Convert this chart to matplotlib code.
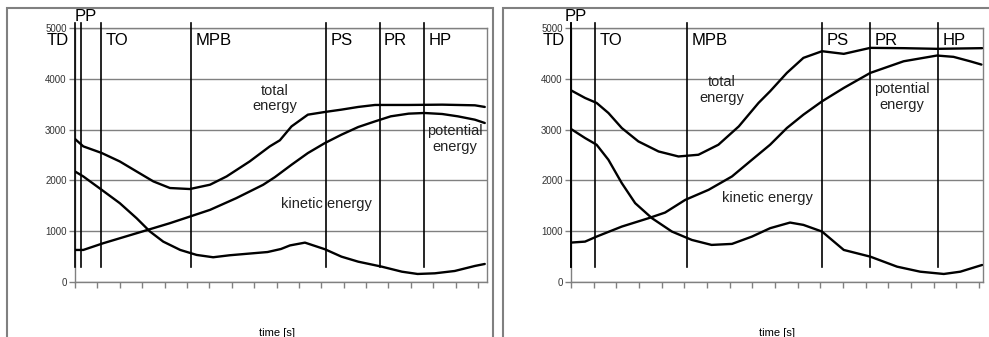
import matplotlib
matplotlib.use('Agg')
import matplotlib.pyplot as plt
from matplotlib.patches import Rectangle

plt.rcParams['font.family'] = ['Liberation Sans', 'DejaVu Sans']

W, H = 989, 337

# left run: time (tick units) and energy values
l_total_t = [0, 0.37, 1.19, 2.0, 2.75, 3.5, 4.24, 5.13, 6.03, 6.77, 7.8, 8.7, 9.15,
             9.67, 10.4, 11.16, 11.9, 12.65, 13.4, 14.9, 16.4, 17.86, 18.3]
l_total = [2815, 2670, 2540, 2373, 2176, 1980, 1850, 1830, 1915, 2078, 2373, 2670, 2790,
           3063, 3294, 3347, 3393, 3446, 3485, 3485, 3491, 3478, 3446]
l_pot_t = [0, 0.37, 1.26, 2.75, 4.24, 5.13, 6.03, 7.2, 8.4, 8.93, 9.67, 10.4, 11.16,
           11.9, 12.65, 13.4, 14.1, 14.9, 15.6, 16.4, 17.1, 17.86, 18.3]
l_pot = [631, 631, 763, 960, 1158, 1288, 1420, 1650, 1913, 2065, 2308, 2538, 2735,
         2900, 3051, 3162, 3261, 3314, 3327, 3307, 3261, 3195, 3130]
l_kin_t = [0, 0.37, 1.19, 2.0, 2.75, 3.35, 3.94, 4.7, 5.43, 6.17, 6.9, 7.96, 8.6, 9.2,
           9.6, 10.27, 11.16, 11.9, 12.65, 13.7, 14.6, 15.3, 16.07, 16.96, 17.86, 18.3]
l_kin = [2176, 2078, 1815, 1552, 1256, 993, 795, 631, 533, 487, 526, 566, 590, 650,
         720, 775, 645, 499, 400, 302, 203, 158, 171, 217, 316, 355]

# right run
r_total_t = [0, 0.62, 1.13, 1.65, 2.24, 2.97, 3.86, 4.74, 5.62, 6.5, 7.4, 8.27, 8.78,
             9.52, 10.25, 11.07, 12.03, 13.2, 14.67, 16.14, 18.13]
r_total = [3773, 3623, 3525, 3327, 3031, 2768, 2570, 2471, 2505, 2702, 3063, 3525, 3754,
           4116, 4412, 4543, 4491, 4609, 4603, 4590, 4603]
r_pot_t = [0, 0.62, 1.13, 2.24, 3.42, 4.15, 5.04, 6.07, 7.1, 7.98, 8.78, 9.52, 10.25,
           11.07, 12.03, 13.2, 14.67, 16.14, 16.87, 17.6, 18.1]
r_pot = [776, 795, 894, 1091, 1256, 1367, 1617, 1815, 2078, 2406, 2702, 3031, 3294,
         3556, 3820, 4116, 4345, 4458, 4432, 4345, 4280]
r_kin_t = [0, 0.62, 1.13, 1.65, 2.24, 2.83, 3.57, 4.45, 5.33, 6.2, 7.1, 7.98, 8.78,
           9.66, 10.25, 11.07, 12.03, 13.2, 14.38, 15.4, 16.44, 17.17, 18.13]
r_kin = [3012, 2834, 2702, 2406, 1946, 1552, 1256, 993, 828, 730, 750, 894, 1059,
         1170, 1124, 993, 631, 499, 302, 203, 158, 203, 335]

# phase markers
phase_names = ['TD', 'PP', 'TO', 'MPB', 'PS', 'PR', 'HP']
l_phase_t = [0, 0.27, 1.16, 5.18, 11.2, 13.6, 15.6]
r_phase_t = [0, 0.02, 1.06, 5.12, 11.07, 13.2, 16.2]

y_ticks = [0, 1000, 2000, 3000, 4000, 5000]
x_ticks = list(range(19))

GRAY = '#808080'


def px_box(x0, x1, ytop, ybot):
    return [x0 / W, (H - ybot) / H, (x1 - x0) / W, (ybot - ytop) / H]


def panel(ax, xmax, series, phases, notes, label_x):
    for t, v in series:
        ax.plot(t, v, color='black', lw=1.7, solid_capstyle='round',
                solid_joinstyle='round', zorder=4)
    for t in phases:
        ax.plot([t, t], [300, 5090], color='black', lw=1.2, clip_on=False, zorder=3)

    ax.set_xlim(0, xmax)
    ax.set_ylim(0, 5000)
    ax.set_yticks(y_ticks)
    ax.set_yticklabels([str(v) for v in y_ticks], fontsize=7, color='#333333')
    ax.set_xticks(x_ticks)
    ax.set_xticklabels([])
    ax.tick_params(axis='both', direction='out', length=4, width=1, color=GRAY)
    ax.tick_params(axis='y', pad=2)
    ax.yaxis.grid(True, color=GRAY, lw=1)
    ax.set_axisbelow(True)
    for s in ax.spines.values():
        s.set_color(GRAY)
        s.set_linewidth(1)

    # phase names, baselines at 4675 (inside) and 5128 (PP, above the frame)
    td, pp = phases[0], phases[1]
    ax.text(td - 0.27, 4675, 'TD', ha='right', va='baseline', fontsize=12)
    ax.text(pp - 0.3, 5128, 'PP', ha='left', va='baseline', fontsize=12, clip_on=False)
    for name, t in zip(phase_names[2:], phases[2:]):
        ax.text(t + 0.2, 4675, name, ha='left', va='baseline', fontsize=12)

    for txt, x, y in notes:
        ax.text(x, y, txt, ha='center', va='center', fontsize=10.5, linespacing=1.15,
                color='#222222')

    ax.text(label_x, -1000, 'time [s]', ha='center', va='center', fontsize=8,
            clip_on=False)


fig = plt.figure(figsize=(W / 100, H / 100), dpi=100)

# panel frames
for x0, x1 in [(7, 493), (503, 996)]:
    fig.patches.append(Rectangle((x0 / W, -0.1), (x1 - x0) / W, (H - 8) / H + 0.1,
                                 transform=fig.transFigure, fill=False,
                                 edgecolor=GRAY, lw=1.5))

ax1 = fig.add_axes(px_box(75, 487, 28, 282))
panel(ax1, 18.4,
      [(l_total_t, l_total), (l_pot_t, l_pot), (l_kin_t, l_kin)],
      l_phase_t,
      [('total\nenergy', 8.93, 3609), ('potential\nenergy', 16.96, 2811),
       ('kinetic energy', 11.25, 1538)],
      9.0)

ax2 = fig.add_axes(px_box(571, 983, 28, 282))
panel(ax2, 18.17,
      [(r_total_t, r_total), (r_pot_t, r_pot), (r_kin_t, r_kin)],
      r_phase_t,
      [('total\nenergy', 6.66, 3777), ('potential\nenergy', 14.6, 3639),
       ('kinetic energy', 8.65, 1657)],
      9.1)

fig.savefig('out.png', dpi=100)
